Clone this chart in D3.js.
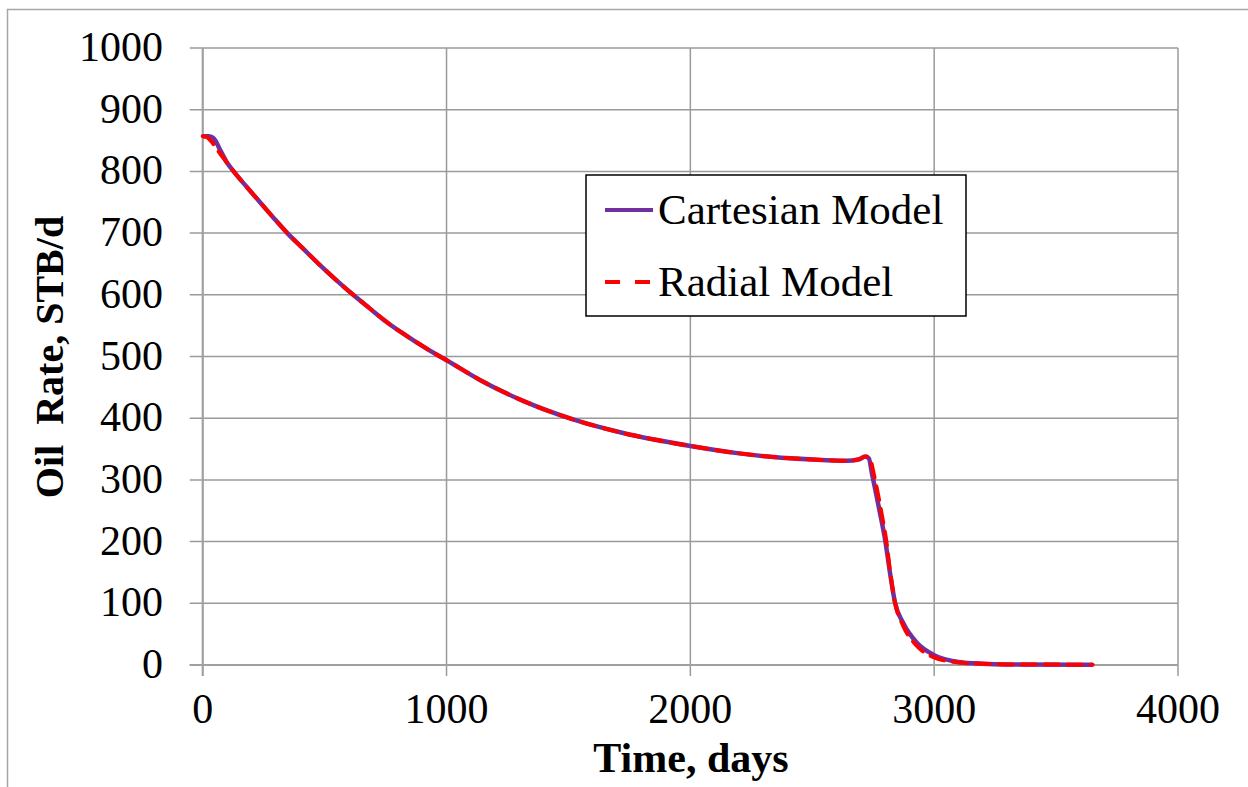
<!DOCTYPE html>
<html>
<head>
<meta charset="utf-8">
<script src="https://cdn.jsdelivr.net/npm/d3@7"></script>
<style>
  html, body { margin: 0; padding: 0; background: #fff; }
  svg { display: block; }
  text { font-family: "Liberation Serif", "Times New Roman", serif; fill: #000; }
</style>
</head>
<body>
<svg id="chart" width="1248" height="787"></svg>
<script>
// ---- Data ----
const cartesianTime = [0, 25, 40, 52, 70, 100, 127, 180, 235, 290, 347, 414, 481, 550, 617, 685, 754, 815, 877, 973, 1000, 1137, 1314, 1519, 1724, 2000, 2200, 2340, 2500, 2642, 2690, 2716, 2732, 2745, 2778, 2800, 2819, 2840, 2873, 2929, 3000, 3100, 3200, 3300, 3650];
const cartesianRate = [857, 857, 855, 850, 836, 814, 800, 775, 750, 725, 700, 674, 648, 623, 600, 578, 556, 539, 523, 500, 494, 462, 428, 398, 376, 355, 343, 337, 333, 331, 333, 338, 335, 310, 246, 200, 149, 100, 68, 36, 16, 5, 2, 1, 0.5];

const radialTime = [0, 15, 37, 55, 75, 100, 127, 180, 235, 290, 347, 414, 481, 550, 617, 685, 754, 815, 877, 973, 1000, 1137, 1314, 1519, 1724, 2000, 2200, 2340, 2500, 2642, 2695, 2722, 2736, 2752, 2784, 2804, 2820, 2840, 2870, 2922, 2990, 3100, 3200, 3300, 3650];
const radialRate = [857, 856, 848, 838, 827, 814, 800, 775, 750, 725, 700, 674, 648, 623, 600, 578, 556, 539, 523, 500, 494, 462, 428, 398, 376, 355, 343, 337, 333, 331, 334, 338, 335, 310, 246, 200, 149, 100, 66, 34, 14, 4, 2, 1, 0.5];

const xTicks = [0, 1000, 2000, 3000, 4000];
const yTicks = [0, 100, 200, 300, 400, 500, 600, 700, 800, 900, 1000];
const seriesNames = ["Cartesian Model", "Radial Model"];

// ---- Layout ----
const svg = d3.select("#chart");
const W = 1248, H = 787;
const plot = { left: 202.7, right: 1178, top: 48, bottom: 665 };
const FONT = "'Liberation Serif', 'Times New Roman', serif";

const x = d3.scaleLinear().domain([0, 4000]).range([plot.left, plot.right]);
const y = d3.scaleLinear().domain([0, 1000]).range([plot.bottom, plot.top]);

// outer chart border
svg.append("rect")
  .attr("x", 7.5).attr("y", 9.5)
  .attr("width", W + 10).attr("height", H + 10)
  .attr("fill", "none").attr("stroke", "#a6a6a6").attr("stroke-width", 1.5);

const gridColor = "#9a9a9a";

// horizontal gridlines (extend left as tick marks)
svg.append("g").selectAll("line").data(yTicks).join("line")
  .attr("x1", plot.left - 13).attr("x2", plot.right)
  .attr("y1", d => y(d)).attr("y2", d => y(d))
  .attr("stroke", gridColor).attr("stroke-width", 1.5);

// vertical gridlines (extend below as tick marks)
svg.append("g").selectAll("line").data(xTicks).join("line")
  .attr("x1", d => x(d)).attr("x2", d => x(d))
  .attr("y1", plot.top).attr("y2", plot.bottom + 11)
  .attr("stroke", gridColor).attr("stroke-width", 1.5);

// axis lines
svg.append("line")
  .attr("x1", plot.left).attr("x2", plot.left)
  .attr("y1", plot.top).attr("y2", plot.bottom + 11)
  .attr("stroke", "#a0a0a0").attr("stroke-width", 2);
svg.append("line")
  .attr("x1", plot.left - 13).attr("x2", plot.right)
  .attr("y1", plot.bottom).attr("y2", plot.bottom)
  .attr("stroke", "#a0a0a0").attr("stroke-width", 2);

// tick labels
svg.append("g").selectAll("text").data(yTicks).join("text")
  .attr("x", 163).attr("y", d => y(d) + 13)
  .attr("text-anchor", "end")
  .attr("font-family", FONT)
  .attr("font-size", 42)
  .text(d => d);

svg.append("g").selectAll("text").data(xTicks).join("text")
  .attr("x", d => x(d)).attr("y", 723)
  .attr("text-anchor", "middle")
  .attr("font-family", FONT)
  .attr("font-size", 42)
  .text(d => d);

// axis titles
svg.append("text")
  .attr("x", 691).attr("y", 772)
  .attr("text-anchor", "middle")
  .attr("font-family", FONT)
  .attr("font-size", 42).attr("font-weight", "bold")
  .text("Time, days");

svg.append("text")
  .attr("transform", "translate(63,357) rotate(-90)")
  .attr("text-anchor", "middle")
  .attr("font-family", FONT)
  .attr("font-size", 40).attr("font-weight", "bold")
  .style("white-space", "pre")
  .text("Oil  Rate, STB/d");

// series lines
const line = d3.line().x(d => x(d[0])).y(d => y(d[1])).curve(d3.curveMonotoneX);
const cartData = cartesianTime.map((t, i) => [t, cartesianRate[i]]);
const radData = radialTime.map((t, i) => [t, radialRate[i]]);

svg.append("path").datum(cartData)
  .attr("d", line).attr("fill", "none")
  .attr("stroke", "#7030a0").attr("stroke-width", 4.5)
  .attr("stroke-linejoin", "round");

svg.append("path").datum(radData)
  .attr("d", line).attr("fill", "none")
  .attr("stroke", "#ff0000").attr("stroke-width", 4)
  .attr("stroke-dasharray", "14,9")
  .attr("stroke-linecap", "round");

// legend
const lg = svg.append("g");
lg.append("rect")
  .attr("x", 586).attr("y", 175).attr("width", 380).attr("height", 141)
  .attr("fill", "#fff").attr("stroke", "#000").attr("stroke-width", 1.5);

const legendRows = [
  { name: seriesNames[0], color: "#7030a0", dash: null, ly: 210, ty: 224 },
  { name: seriesNames[1], color: "#ff0000", dash: "15,15", ly: 282, ty: 296 }
];
legendRows.forEach(r => {
  lg.append("line")
    .attr("x1", 605).attr("x2", 653).attr("y1", r.ly).attr("y2", r.ly)
    .attr("stroke", r.color).attr("stroke-width", 4)
    .attr("stroke-dasharray", r.dash);
  lg.append("text")
    .attr("x", 658).attr("y", r.ty)
    .attr("font-family", FONT)
    .attr("font-size", 43)
    .text(r.name);
});
</script>
</body>
</html>
